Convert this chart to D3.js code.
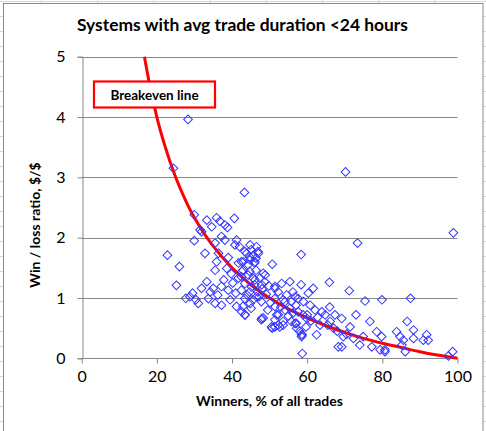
<!DOCTYPE html>
<html>
<head>
<meta charset="utf-8">
<script src="https://cdn.jsdelivr.net/npm/d3@7"></script>
<style>
  body { margin: 0; background: #fff; }
  text { font-family: Lato, "Open Sans", sans-serif; fill: #000; }
</style>
</head>
<body>
<svg id="chart" width="486" height="431"></svg>
<script>
var width = 486;
var height = 431;

// win percentage of each system
var winners = [
  28.3, 24.4, 43.3, 70.2, 98.9, 73.4, 29.95, 31.5, 29.95, 22.8, 26.0, 25.2, 27.7, 29.5, 28.8, 30.4, 31.0,
  33.3, 34.6, 35.9, 36.8, 38.1, 38.8, 40.6, 31.9, 37.2, 38.1, 35.5, 41.2, 40.8, 32.8, 36.4, 39.0,
  44.8, 46.5, 43.9, 45.7, 47.0, 44.8, 46.1, 43.0, 41.7, 50.7, 58.4, 35.9,
  35.5, 38.6, 33.3, 31.9, 35.0, 37.2, 39.0, 41.7, 42.6, 44.3, 46.1, 48.8, 47.9, 33.7, 37.2, 35.5,
  39.5, 41.2, 42.6, 43.5, 44.8, 46.5, 47.9, 51.4, 53.2, 55.4, 58.4, 51.4, 54.1, 56.8, 55.4, 57.6,
  51.9, 51.4, 50.7, 52.3, 53.6, 56.8, 58.5, 57.2, 58.7, 59.9,
  42.0, 43.4, 45.1, 46.9, 44.7, 46.4, 42.5, 44.3, 46.0, 42.9, 44.7, 46.4, 48.3, 42.5, 45.6, 47.4,
  48.7, 43.4, 46.0, 51.4, 42.5, 44.7, 46.9, 49.1, 52.3, 54.5, 56.2, 43.4, 45.6, 47.8, 53.6, 55.8,
  57.6, 42.9, 45.1, 48.3, 51.4, 52.3, 54.1, 56.2, 58.9, 43.4, 51.4, 53.6, 55.8, 57.1, 50.5, 52.7, 58.0,
  65.9, 61.6, 60.3, 71.2, 75.4, 79.9, 59.0, 60.8, 62.1, 63.9, 64.8, 67.4, 69.2, 73.0, 76.7, 66.1,
  63.4, 59.7, 62.5, 67.0, 71.4, 69.6, 72.3, 74.9, 78.5, 79.8, 77.2, 80.7, 69.2, 74.0, 58.5, 83.8,
  87.5, 86.6, 88.3, 84.7, 85.6, 85.2, 91.8, 90.9, 92.2, 88.3, 86.1, 80.7, 97.6, 98.7,
  40.2, 41.0, 39.8, 48.0, 49.8, 50.2, 44.0, 45.2, 47.2, 49.5, 53.0, 55.0, 57.0, 60.0, 61.0, 62.8,
  65.5, 68.0, 70.5, 66.0, 37.8, 36.2, 34.2, 47.8, 58.7, 68.3, 79.4
];

// win / loss ratio of each system, same order
var ratios = [
  3.96, 3.15, 2.75, 3.09, 2.08, 1.91, 2.38, 2.13, 1.95, 1.71, 1.52, 1.21, 0.995, 1.08, 1.02, 0.97, 0.91,
  2.29, 2.18, 2.33, 2.27, 2.21, 2.17, 2.32, 2.10, 2.02, 1.96, 1.91, 1.96, 1.88, 1.74, 1.74, 1.67,
  1.88, 1.85, 1.74, 1.71, 1.74, 1.63, 1.60, 1.60, 1.58, 1.56, 1.72, 1.60,
  1.46, 1.49, 1.27, 1.16, 1.16, 1.19, 1.13, 1.33, 1.44, 1.38, 1.30, 1.38, 1.22, 0.99, 0.88, 0.91,
  0.97, 0.86, 0.77, 0.72, 0.91, 1.02, 0.66, 1.16, 1.24, 1.27, 1.22, 0.99, 0.94, 1.02, 0.83, 0.77,
  0.72, 0.52, 0.50, 0.55, 0.55, 0.58, 0.39, 0.50, 0.08, 0.66,
  1.85, 1.77, 1.80, 1.77, 1.68, 1.66, 1.60, 1.55, 1.58, 1.46, 1.44, 1.46, 1.41, 1.35, 1.33, 1.33,
  1.27, 1.24, 1.22, 1.19, 1.13, 1.10, 1.10, 1.06, 1.10, 1.05, 1.10, 0.99, 0.97, 0.94, 0.97, 0.94,
  0.99, 0.86, 0.83, 0.67, 0.86, 0.72, 0.80, 0.75, 0.72, 0.72, 0.64, 0.61, 0.61, 0.58, 0.52, 0.52, 0.45,
  1.26, 1.16, 1.08, 1.12, 0.95, 0.97, 0.94, 0.88, 0.80, 0.77, 0.72, 0.72, 0.66, 0.72, 0.61, 0.61,
  0.55, 0.52, 0.39, 0.50, 0.52, 0.36, 0.33, 0.36, 0.44, 0.36, 0.19, 0.11, 0.19, 0.22, 0.36, 0.44,
  0.995, 0.61, 0.47, 0.36, 0.30, 0.22, 0.39, 0.30, 0.30, 0.33, 0.11, 0.14, 0.04, 0.11,
  1.25, 1.08, 1.40, 1.15, 1.20, 0.92, 1.05, 1.18, 1.02, 0.80, 0.85, 0.70, 0.88, 0.72, 0.62, 0.68,
  0.55, 0.45, 0.40, 0.85, 1.30, 1.05, 1.10, 0.64, 0.39, 0.19, 0.14
];

// breakeven line
var breakevenX = [16.7, 18, 20, 22, 25, 28, 30, 33, 36, 40, 45, 50, 55, 60, 65, 70, 75, 80, 85, 90, 95, 100];
var breakevenY = [5, 4.56, 4, 3.55, 3, 2.57, 2.33, 2.03, 1.78, 1.5, 1.22, 1, 0.82, 0.67, 0.54, 0.43, 0.33, 0.25, 0.18, 0.11, 0.05, 0];

var xTicks = [0, 20, 40, 60, 80, 100];
var yTicks = [0, 1, 2, 3, 4, 5];

var title = "Systems with avg trade duration <24 hours";
var xTitle = "Winners, % of all trades";
var yTitle = "Win / loss ratio, $/$";
var legendLabel = "Breakeven line";

var svg = d3.select("#chart");

// squeeze a text to a width if the font runs wider
function fitText(sel, w) {
  var len = sel.node().getComputedTextLength();
  if (len > w) {
    sel.attr("textLength", w).attr("lengthAdjust", "spacingAndGlyphs");
  }
}

// spreadsheet cells behind the chart
var sheet = svg.append("g");
d3.range(0, 9).forEach(function(i) {
  sheet.append("line")
    .attr("x1", 41.5 + i * 56.2).attr("x2", 41.5 + i * 56.2)
    .attr("y1", 0).attr("y2", height)
    .attr("stroke", "#d6d6d6");
});
d3.range(0, 30).forEach(function(i) {
  sheet.append("line")
    .attr("x1", 0).attr("x2", width)
    .attr("y1", 1.5 + i * 15).attr("y2", 1.5 + i * 15)
    .attr("stroke", "#d6d6d6");
});

// chart area
svg.append("rect")
  .attr("x", 3.5).attr("y", 3.5)
  .attr("width", 479.5).attr("height", 440)
  .attr("fill", "#fff")
  .attr("stroke", "#8a8a8a");

var xScale = d3.scaleLinear().domain([0, 100]).range([81.7, 457.5]);
var yScale = d3.scaleLinear().domain([0, 5]).range([358.3, 56.7]);

// horizontal gridlines
svg.append("g")
  .selectAll("line")
  .data(yTicks.slice(1))
  .enter().append("line")
  .attr("x1", xScale(0)).attr("x2", xScale(100))
  .attr("y1", function(d) { return Math.round(yScale(d)) + 0.5; })
  .attr("y2", function(d) { return Math.round(yScale(d)) + 0.5; })
  .attr("stroke", "#878787");

// axes
var xAxis = svg.append("g")
  .attr("transform", "translate(0," + (Math.round(yScale(0)) + 0.5) + ")")
  .call(d3.axisBottom(xScale).tickValues(xTicks).tickFormat(d3.format("d"))
    .tickSize(5).tickPadding(7));

var yAxis = svg.append("g")
  .attr("transform", "translate(" + (Math.round(xScale(0)) + 0.5) + ",0)")
  .call(d3.axisLeft(yScale).tickValues(yTicks).tickFormat(d3.format("d"))
    .tickSize(5).tickPadding(12));

[xAxis, yAxis].forEach(function(ax) {
  ax.select(".domain").attr("stroke", "#878787");
  ax.selectAll(".tick line").attr("stroke", "#878787");
  ax.selectAll(".tick text")
    .style("font-family", "Lato, sans-serif")
    .style("font-size", "16px")
    .attr("fill", "#000");
});
xAxis.select(".domain").attr("d", "M" + xScale(0) + ",0H" + xScale(100));

// breakeven curve
var line = d3.line()
  .x(function(d, i) { return xScale(breakevenX[i]); })
  .y(function(d, i) { return yScale(breakevenY[i]); })
  .curve(d3.curveMonotoneX);

svg.append("path")
  .datum(breakevenX)
  .attr("d", line)
  .attr("fill", "none")
  .attr("stroke", "#ff0000")
  .attr("stroke-width", 3);

// systems
var diamond = d3.symbol().type(d3.symbolSquare).size(38);
svg.append("g")
  .selectAll("path")
  .data(winners)
  .enter().append("path")
  .attr("d", diamond)
  .attr("transform", function(d, i) {
    return "translate(" + xScale(d) + "," + yScale(ratios[i]) + ") rotate(45)";
  })
  .attr("fill", "none")
  .attr("stroke", "#3636ff")
  .attr("stroke-width", 1);

// label box
svg.append("rect")
  .attr("x", 94).attr("y", 81.5)
  .attr("width", 121).attr("height", 26)
  .attr("fill", "#fff")
  .attr("stroke", "#ff0000")
  .attr("stroke-width", 2.2);

svg.append("text")
  .attr("x", 154.5).attr("y", 99.5)
  .attr("text-anchor", "middle")
  .style("font-weight", "bold")
  .style("font-size", "13.5px")
  .text(legendLabel)
  .call(fitText, 91);

// titles
svg.append("text")
  .attr("x", 242.5).attr("y", 30.5)
  .attr("text-anchor", "middle")
  .style("font-weight", "bold")
  .style("font-size", "17.5px")
  .text(title)
  .call(fitText, 331);

svg.append("text")
  .attr("x", 269.5).attr("y", 406)
  .attr("text-anchor", "middle")
  .style("font-weight", "bold")
  .style("font-size", "14px")
  .text(xTitle)
  .call(fitText, 158);

svg.append("text")
  .attr("transform", "translate(39.5,225) rotate(-90)")
  .attr("text-anchor", "middle")
  .style("font-weight", "bold")
  .style("font-size", "14px")
  .text(yTitle)
  .call(fitText, 133);
</script>
</body>
</html>
